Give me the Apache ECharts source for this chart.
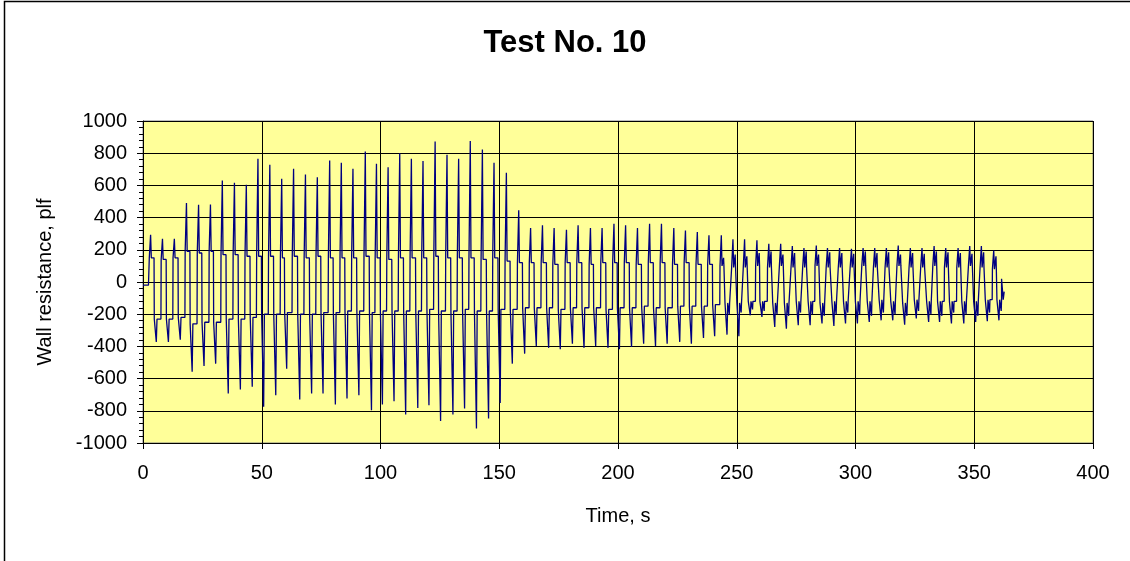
<!DOCTYPE html>
<html>
<head>
<meta charset="utf-8">
<script src="https://cdn.jsdelivr.net/npm/echarts@6/dist/echarts.min.js"></script>
<style>
  html, body { margin: 0; padding: 0; background: #fff; }
  #chart { width: 1130px; height: 561px; }
</style>
</head>
<body>
<div id="chart"></div>
<script>
// per-cycle readings (time in s, resistance in plf)
var peakTime = [3.2, 8.2, 13.2, 18.3, 23.4, 28.4, 33.4, 38.5, 43.5, 48.4, 53.4, 58.4, 63.4, 68.4, 73.4, 78.6,
  83.5, 88.4, 93.6, 98.3, 103.2, 108.1, 113.0, 117.9, 123.0, 128.0, 132.9, 137.8, 142.9, 147.8, 153.0, 158.2,
  163.2, 168.2, 173.1, 178.3, 183.2, 188.4, 193.3, 198.3, 203.2, 208.2, 213.3, 218.3, 223.5, 228.4, 233.4, 238.3,
  243.5, 248.4, 253.3, 258.5, 263.5, 268.5, 273.4, 278.3, 283.5, 288.2, 293.3, 298.3, 303.2, 308.1, 313.0, 318.0,
  323.1, 328.0, 333.1, 338.0, 343.2, 348.1, 353.0, 358.2];
var peakValue = [294, 269, 269, 490, 480, 482, 631, 616, 604, 765, 728, 641, 703, 668, 651, 755,
  740, 703, 810, 734, 713, 800, 765, 751, 873, 790, 765, 875, 823, 740, 678, 445,
  335, 352, 335, 325, 352, 335, 335, 362, 352, 335, 362, 362, 335, 320, 310, 290,
  290, 265, 265, 259, 238, 238, 223, 211, 227, 211, 211, 207, 211, 211, 211, 227,
  211, 211, 223, 211, 211, 223, 223, 196];
var troughTime = [5.6, 10.7, 15.7, 20.7, 25.7, 30.6, 35.9, 41.0, 46.0, 50.8, 55.9, 60.5, 66.0, 71.0, 75.8, 81.0,
  85.9, 90.9, 96.2, 100.8, 105.7, 110.6, 115.7, 120.4, 125.3, 130.5, 135.4, 140.4, 145.5, 150.4, 155.5, 160.7,
  165.6, 170.8, 175.7, 180.8, 185.7, 190.6, 195.8, 200.6, 205.7, 210.8, 215.8, 220.7, 226.0, 230.9, 236.0, 240.7,
  245.9, 250.9, 255.7, 260.6, 266.0, 270.9, 275.9, 280.9, 285.9, 290.9, 295.8, 300.8, 305.8, 310.8, 315.7, 320.7,
  325.6, 330.8, 335.4, 340.4, 345.6, 350.6, 355.5, 360.4];
var troughValue = [-372, -372, -358, -558, -521, -507, -693, -668, -651, -775, -703, -538, -730, -693, -693, -761,
  -724, -703, -796, -761, -740, -823, -782, -765, -864, -823, -786, -910, -848, -751, -507, -445,
  -397, -409, -418, -383, -409, -397, -409, -418, -403, -383, -397, -383, -372, -383, -347, -337,
  -327, -337, -207, -217, -279, -290, -269, -269, -258, -273, -258, -258, -248, -238, -238, -265,
  -227, -248, -248, -258, -258, -248, -244, -238];
// plateau levels either side of each spike
var upperLevel = [150, 140, 150, 190, 180, 190, 170, 170, 160, 160, 160, 150, 160, 150, 160, 150,
  150, 150, 160, 150, 140, 150, 150, 150, 160, 150, 150, 150, 140, 150, 130, 120,
  120, 120, 110, 120, 120, 110, 120, 120, 120, 110, 120, 120, 110, 120, 110, 110,
  100, 90, 90, 100, 90, 100, 90, 90, 100, 90, 90, 90, 100, 90, 90, 100,
  90, 90, 100, 90, 90, 100, 90, 80];
var lowerLevel = [-230, -230, -220, -260, -250, -250, -230, -230, -220, -200, -200, -190, -200, -200, -190, -190,
  -180, -180, -190, -180, -180, -180, -180, -170, -180, -180, -170, -180, -180, -170, -170, -160,
  -160, -160, -170, -160, -160, -160, -170, -160, -160, -150, -160, -160, -150, -150, -150, -140,
  -130, -130, -120, -120, -130, -130, -120, -120, -130, -120, -120, -120, -120, -110, -120, -130,
  -110, -120, -120, -120, -120, -120, -110, -110];
// small secondary excursions inside the plateaus (late cycles only)
var innerHigh = [null, null, null, null, null, null, null, null, null, null, null, null, null, null, null, null,
  null, null, null, null, null, null, null, null, null, null, null, null, null, null, null, null,
  null, null, null, null, null, null, null, null, null, null, null, null, null, null, null, null,
  150, 170, 160, 180, 190, 170, 180, 190, 170, 185, 180, 175, 190, 180, 185, 170,
  180, 175, 190, 185, 180, 175, 185, 160];
var innerLow = [null, null, null, null, null, null, null, null, null, null, null, null, null, null, null, null,
  null, null, null, null, null, null, null, null, null, null, null, null, null, null, null, null,
  null, null, null, null, null, null, null, null, null, null, null, null, null, null, null, null,
  -200, -190, -170, -180, -200, -210, -190, -200, -210, -200, -190, -200, -210, -190, -200, -210,
  -180, -200, -210, -190, -200, -210, -190, -180];
var startTime = [0, 2.3], startValue = [-20, -20];
var endTime = [361.4, 361.5, 362.0, 362.2, 362.6], endValue = [-110, 20, 10, -110, -60];

var yTicks = [-1000, 1000, 200];
var xTicks = [0, 400, 50];

var points = [];
for (var s = 0; s < startTime.length; s++) points.push([startTime[s], startValue[s]]);
for (var i = 0; i < peakTime.length; i++) {
  var tp = peakTime[i], tt = troughTime[i];
  var prevLow = i === 0 ? startValue[startValue.length - 1] : lowerLevel[i - 1];
  points.push([tp - 0.65, prevLow], [tp - 0.55, upperLevel[i]], [tp, peakValue[i]], [tp + 0.3, upperLevel[i]]);
  if (innerHigh[i] !== null) {
    points.push([tp + 0.9, upperLevel[i]], [tp + 0.95, innerHigh[i]], [tp + 1.1, upperLevel[i]]);
  }
  points.push([tt - 0.95, upperLevel[i]], [tt - 0.85, lowerLevel[i]], [tt, troughValue[i]], [tt + 0.3, lowerLevel[i]]);
  if (innerLow[i] !== null) {
    points.push([tt + 0.9, lowerLevel[i]], [tt + 0.95, innerLow[i]], [tt + 1.1, lowerLevel[i]]);
  }
}
for (var e = 0; e < endTime.length; e++) points.push([endTime[e], endValue[e]]);

var font = 'Liberation Sans, Arial, sans-serif';
var chart = echarts.init(document.getElementById('chart'), null, { renderer: 'canvas' });

var option = {
  animation: false,
  backgroundColor: '#ffffff',
  title: {
    text: 'Test No. 10',
    left: 'center',
    top: 23,
    textStyle: { fontFamily: font, fontSize: 31, fontWeight: 'bold', color: '#000' }
  },
  grid: {
    left: 143, right: 37, top: 121, bottom: 118,
    show: true,
    backgroundColor: '#FFFF99',
    borderColor: '#808080',
    borderWidth: 1
  },
  xAxis: {
    type: 'value',
    min: xTicks[0], max: xTicks[1], interval: xTicks[2],
    name: 'Time, s',
    nameLocation: 'middle',
    nameGap: 63,
    nameTextStyle: { fontFamily: font, fontSize: 20, color: '#000' },
    axisLine: { show: true, onZero: false, lineStyle: { color: '#000', width: 1 } },
    axisTick: { show: true, length: 6, lineStyle: { color: '#000' } },
    axisLabel: { fontFamily: font, fontSize: 20, color: '#000', margin: 20 },
    splitLine: { show: true, lineStyle: { color: '#000', width: 1 } }
  },
  yAxis: {
    type: 'value',
    min: yTicks[0], max: yTicks[1], interval: yTicks[2],
    name: 'Wall resistance, plf',
    nameLocation: 'middle',
    nameGap: 88,
    nameTextStyle: { fontFamily: font, fontSize: 20, color: '#000' },
    axisLine: { show: true, onZero: false, lineStyle: { color: '#000', width: 1 } },
    axisTick: { show: true, length: 6, lineStyle: { color: '#000' } },
    minorTick: { show: true, splitNumber: 5, length: 4, lineStyle: { color: '#000' } },
    axisLabel: {
      fontFamily: font, fontSize: 20, color: '#000', margin: 16,
      formatter: function (v) { return String(v); }
    },
    splitLine: { show: true, lineStyle: { color: '#000', width: 1 } }
  },
  graphic: [{
    type: 'rect',
    shape: { x: 4.5, y: 1.5, width: 1300, height: 800 },
    style: { fill: 'none', stroke: '#000', lineWidth: 1.5 },
    silent: true
  }],
  series: [{
    type: 'line',
    data: points,
    showSymbol: false,
    lineStyle: { color: '#000080', width: 1.3 }
  }]
};
chart.setOption(option);
</script>
</body>
</html>
